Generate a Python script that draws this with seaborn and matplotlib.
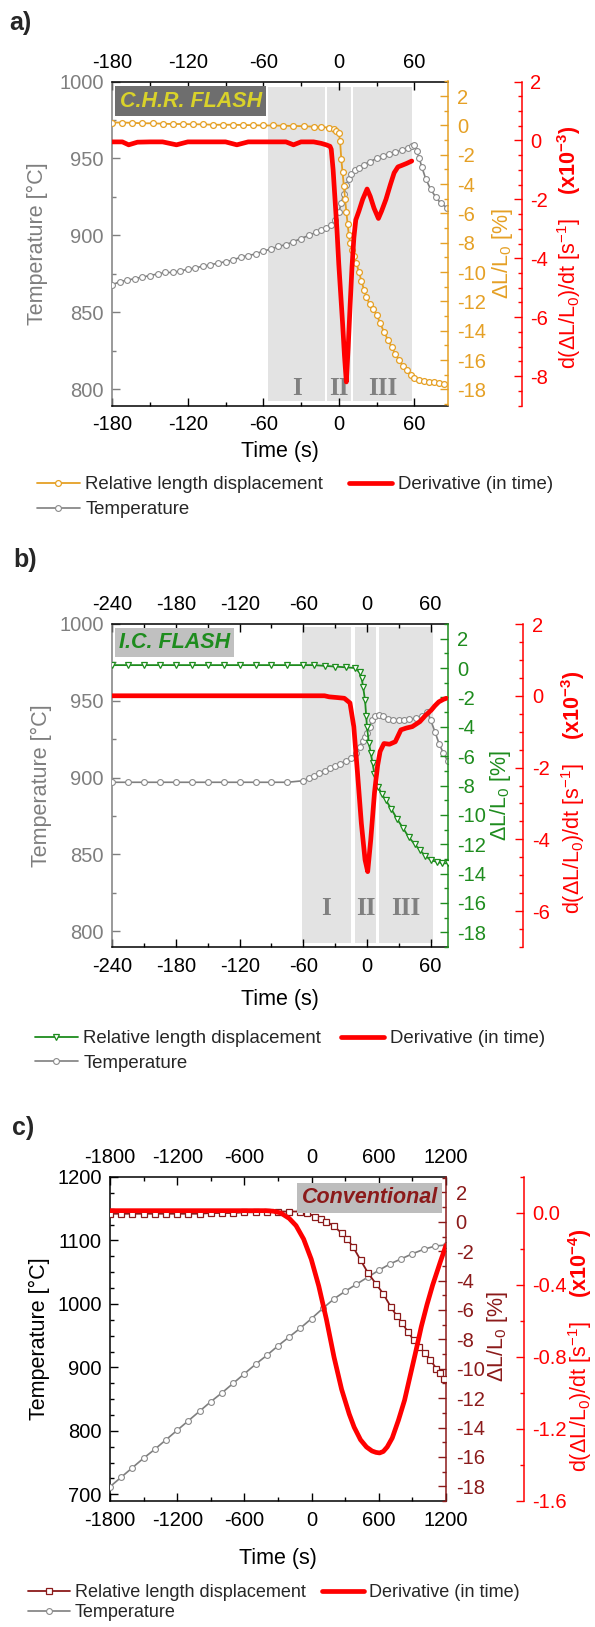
import matplotlib
matplotlib.use("Agg")
import matplotlib.pyplot as plt
import matplotlib.transforms as mtransforms
from matplotlib.ticker import MultipleLocator
import seaborn as sns

sns.set_style("ticks")
plt.rcParams['font.family'] = ['Liberation Sans', 'DejaVu Sans']
plt.rcParams['mathtext.fontset'] = 'custom'
plt.rcParams['mathtext.rm'] = 'Liberation Sans'
plt.rcParams['mathtext.it'] = 'Liberation Sans:italic'
plt.rcParams['mathtext.bf'] = 'Liberation Sans:bold'
plt.rcParams['axes.unicode_minus'] = False

# ------------------------------------------------------------------ data
region_names = ['I', 'II', 'III']
legend_labels = ['Relative length displacement', 'Temperature', 'Derivative (in time)']

# ---- panel a : C.H.R. FLASH
a_time_T = [-180, -174, -168, -162, -156, -150, -144, -138, -132, -126, -120, -114, -108, -102,
            -96, -90, -84, -78, -72, -66, -60, -54, -48, -42, -36, -30, -24, -18,
            -14, -10, -6, -3, 0, 2, 4, 6, 8, 10, 13, 16, 20, 25, 30, 35, 40, 45, 50, 55, 58, 60,
            62, 64, 66, 69, 73, 77, 81, 86]
a_temp = [868, 870, 871, 872, 873, 874, 875, 876, 876, 877, 878, 879, 880, 881, 882, 883, 884,
          886, 887, 888, 890, 891, 893, 894, 896, 898, 900, 902,
          903.5, 905, 907, 910, 915, 921, 927, 933, 937, 940, 942.5, 944, 946, 948, 950, 951.5,
          953, 954, 955.5, 957, 958, 958.5, 955, 950, 944.5, 937, 930, 925, 921, 918]
a_time_dl = [-180, -172, -164, -156, -148, -140, -132, -124, -116, -108, -100, -92, -84, -76,
             -68, -60, -52, -44, -36, -28, -20,
             -14, -8, -4, -2, 0, 1, 2, 3, 4, 5, 6, 7, 8, 9, 10.5, 12, 14, 16, 18, 20, 22, 24.5,
             27, 30, 33, 36, 39, 42, 45, 48, 51, 54, 57, 60, 64, 68, 72, 76, 80, 84]
a_dl = [0.2, 0.2, 0.18, 0.15, 0.15, 0.12, 0.1, 0.1, 0.08, 0.08, 0.05, 0.05, 0.05, 0.03, 0.02,
        0.0, 0.0, -0.02, -0.03, -0.05, -0.08,
        -0.1, -0.15, -0.25, -0.35, -0.5, -1.05, -2.3, -3.2, -4.1, -5.0, -5.9, -6.7, -7.5, -8.0,
        -8.5, -8.9, -9.4, -10.0, -10.6, -11.2, -11.7, -12.2, -12.5, -12.9, -13.5, -14.1, -14.6,
        -15.1, -15.6, -16.0, -16.4, -16.7, -17.0, -17.2, -17.35, -17.45, -17.5, -17.5, -17.55, -17.6]
a_time_dv = [-180, -172, -167, -160, -150, -140, -129, -120, -110, -100,
             -90, -81, -72, -60, -50, -42, -36, -30, -20, -14,
             -10, -7, -6, -4.5, -3, -1.5, 0, 1.5, 3, 4.5,
             6, 7.5, 9, 10.5, 12, 13.5, 16, 19, 22.5, 25,
             28, 31.5, 34, 37.5, 41, 44, 47, 50, 54, 58]
a_dv = [-0.05, -0.05, -0.15, -0.06, -0.05, -0.05, -0.15, -0.05, -0.05, -0.05,
        -0.05, -0.15, -0.05, -0.05, -0.05, -0.05, -0.15, -0.05, -0.05, -0.1,
        -0.15, -0.2, -0.3, -1.0, -2.0, -3.0, -4.2, -5.2, -6.2, -7.3,
        -8.2, -7.0, -5.6, -4.3, -3.3, -2.7, -2.4, -2.0, -1.65, -1.9,
        -2.3, -2.65, -2.4, -2.0, -1.5, -1.1, -0.9, -0.85, -0.78, -0.7]
a_regions = [(-56.2, -10.6), (-9.1, 9.8), (11.3, 57.9)]

# ---- panel b : I.C. FLASH
b_time_T = [-240, -225, -210, -195, -180, -165, -150, -135, -120, -105, -90, -75, -60,
            -55, -50, -45, -40, -35, -30, -25, -20, -15, -10,
            -7, -4, -2, 0, 2.5, 5, 8, 11, 15, 20,
            25, 30, 35, 40, 46, 52, 57, 60, 64, 68, 72, 76]
b_temp = [897, 897, 897, 897, 897, 897, 897, 897, 897, 897, 897, 897, 898,
          899.5, 901, 903, 904.5, 906, 907.5, 909, 911, 913, 916,
          920, 924, 926.5, 929, 933, 937.5, 940, 941, 940, 938.5,
          937.5, 937.5, 937.5, 938, 938.7, 940, 943, 937.5, 930, 922, 916, 911]
b_time_dl = [-240, -225, -210, -195, -180, -165, -150, -135, -120, -105, -90, -75, -60,
             -50, -40, -30, -20, -11,
             -7, -5, -3.6, -1.8, -0.7, 0, 1.8, 3.6, 5.3, 7,
             10.7, 14, 17.8, 23, 28.5, 34, 39.2, 45, 49.9, 55,
             60.6, 66, 71, 76]
b_dl = [0.2, 0.2, 0.2, 0.2, 0.2, 0.2, 0.2, 0.2, 0.2, 0.2, 0.2, 0.2, 0.2,
        0.2, 0.15, 0.1, 0.05, 0.0,
        -0.3, -0.7, -1.3, -2.2, -3.3, -4.0, -5.1, -5.8, -6.5, -7.2,
        -8.1, -8.6, -9.0, -9.6, -10.3, -10.9, -11.5, -12.0, -12.4, -12.8,
        -13.1, -13.2, -13.3, -13.3]
b_time_dv = [-240, -200, -160, -120, -80, -40,
             -35.6, -28, -21.3, -16, -12.4, -8.9, -5.3, -1.8, 0.7, 3.6,
             7.1, 10, 12.4, 16, 21.3, 26.7, 32, 37, 42.7, 49.9,
             55, 60.6, 64, 67.7, 72, 74.8]
b_dv = [0, 0, 0, 0, 0, 0,
        -0.03, -0.05, -0.07, -0.2, -0.86, -2.16, -3.55, -4.57, -4.9, -4.0,
        -2.7, -1.95, -1.55, -1.33, -1.35, -1.28, -0.95, -0.9, -0.86, -0.72,
        -0.55, -0.4, -0.28, -0.17, -0.1, -0.07]
b_regions = [(-61.6, -14.9), (-11.4, 8.9), (11.4, 62.3)]

# ---- panel c : Conventional
c_time_T = [-1800, -1700, -1600, -1500, -1400, -1300, -1200, -1100, -1000, -900, -800, -700,
            -600, -500, -400, -300, -200, -100, 0, 100, 200, 300, 400, 500, 600, 700, 800,
            900, 1000, 1100, 1200]
c_temp = [712, 727, 742, 757, 771, 786, 801, 816, 831, 846, 860, 875, 890, 905, 919, 934, 948,
          962, 977, 993, 1008, 1020, 1031, 1042, 1053, 1063, 1071, 1079, 1086, 1091, 1093]
c_time_dl = [-1800, -1700, -1600, -1500, -1400, -1300, -1200, -1100, -1000, -900, -800, -700,
             -600, -500, -400, -300, -200,
             -105, -40, 30, 80, 132, 200, 268, 320, 370, 437,
             505, 573, 640, 708, 760, 810, 860, 912, 960, 1014,
             1060, 1115, 1150, 1183]
c_dl = [0.55, 0.55, 0.55, 0.55, 0.55, 0.55, 0.55, 0.55, 0.55, 0.6, 0.6, 0.6, 0.65, 0.65, 0.7,
        0.7, 0.7,
        0.7, 0.6, 0.36, 0.2, 0.02, -0.3, -0.77, -1.2, -1.7, -2.6,
        -3.5, -4.2, -4.9, -5.8, -6.4, -6.9, -7.5, -8.05, -8.5, -8.95,
        -9.4, -10.0, -10.3, -10.7]
c_time_dv = [-1800, -1500, -1200, -900, -600, -410, -340, -275, -200, -139,
             -71, -3, 64, 132, 200, 268, 336, 380, 437, 490,
             539, 575, 607, 640, 675, 720, 776, 830, 878, 930,
             980, 1030, 1081, 1150, 1200]
c_dv = [0.013, 0.013, 0.013, 0.013, 0.013, 0.013, 0.01, 0.0, -0.03, -0.07,
        -0.145, -0.257, -0.406, -0.59, -0.8, -0.98, -1.117, -1.19, -1.26, -1.30,
        -1.322, -1.33, -1.333, -1.325, -1.30, -1.25, -1.15, -1.04, -0.91, -0.77,
        -0.63, -0.51, -0.4, -0.27, -0.18]

# ------------------------------------------------------------------ style
W, H = 595, 1627
GRAY = '#7f7f7f'
TGRAY = '#8a8a8a'
RED = '#ff0000'
ORANGE = '#e5a025'
GREEN = '#1e8c1e'
DRED = '#8b1a1a'
TICK_FS = 14.5
LAB_FS = 15.5

fig = plt.figure(figsize=(W / 100, H / 100), dpi=100)
fig.patch.set_facecolor('white')


def rect(l, r, t, b):
    return [l / W, 1 - b / H, (r - l) / W, (b - t) / H]


def panel(box, letter, letter_xy, xlim, xmaj, xmin_, tlim, tmaj, tmin, left_col,
          tT, T, tdl, dl, dl_col, dl_marker, dl_ms, dl_lim,
          tdv, dv, dv_lim, dv_maj, dv_min, dv_fmt, exp_txt, red_out,
          regions, reg_y, reg_span, title, title_fc, title_col, title_xy,
          lab_pos, leg):
    ax = fig.add_axes(rect(*box))
    ax.set_facecolor('none')
    # shaded stages
    if regions:
        trans = mtransforms.blended_transform_factory(ax.transData, ax.transAxes)
        for (x0, x1), nm in zip(regions, region_names):
            ax.axvspan(x0, x1, ymin=reg_span[0], ymax=reg_span[1], color='#e3e3e3', lw=0, zorder=0)
            ax.text((x0 + x1) / 2, reg_y, nm, transform=trans, ha='center', va='center',
                    family='Liberation Serif', fontweight='bold', fontsize=18, color='#808080',
                    zorder=1)
    # temperature
    sns.lineplot(x=tT, y=T, ax=ax, sort=False, estimator=None, color=GRAY, lw=1.2,
                 marker='o', markersize=4.2, markerfacecolor='white', markeredgecolor=TGRAY,
                 markeredgewidth=0.8, zorder=3)
    l_T = ax.get_lines()[-1]
    ax.set_xlim(*xlim)
    ax.set_ylim(*tlim)
    ax.xaxis.set_major_locator(MultipleLocator(xmaj))
    ax.xaxis.set_minor_locator(MultipleLocator(xmin_))
    ax.yaxis.set_major_locator(MultipleLocator(tmaj))
    ax.yaxis.set_minor_locator(MultipleLocator(tmin))
    ax.set_xlabel('')
    ax.set_ylabel('')
    ax.tick_params(axis='x', which='both', direction='in', top=True, bottom=True,
                   labeltop=True, labelbottom=True, labelsize=TICK_FS, pad=7, colors='black')
    ax.tick_params(axis='y', which='both', direction='in', left=True, right=False,
                   labelsize=TICK_FS, pad=6, color=left_col, labelcolor=left_col)
    ax.tick_params(which='major', length=6, width=1)
    ax.tick_params(which='minor', length=3, width=1)
    for s in ['top', 'bottom']:
        ax.spines[s].set_color('black')
        ax.spines[s].set_linewidth(1.1)
    ax.spines['left'].set_color(left_col)
    ax.spines['left'].set_linewidth(1.1)
    ax.spines['right'].set_visible(False)

    # relative length displacement
    ax2 = ax.twinx()
    sns.lineplot(x=tdl, y=dl, ax=ax2, sort=False, estimator=None, color=dl_col, lw=1.3,
                 marker=dl_marker, markersize=dl_ms, markerfacecolor='white',
                 markeredgecolor=dl_col, markeredgewidth=0.9, zorder=3)
    l_dl = ax2.get_lines()[-1]
    ax2.set_ylim(*dl_lim)
    ax2.yaxis.set_major_locator(MultipleLocator(2))
    ax2.yaxis.set_minor_locator(MultipleLocator(1))
    ax2.set_ylabel('')
    ax2.set_xlabel('')
    ax2.tick_params(axis='y', which='both', direction='in', labelsize=TICK_FS, pad=7,
                    colors=dl_col)
    ax2.tick_params(which='major', length=6, width=1)
    ax2.tick_params(which='minor', length=3, width=1)
    for s in ['top', 'bottom', 'left']:
        ax2.spines[s].set_visible(False)
    ax2.spines['right'].set_color(dl_col)
    ax2.spines['right'].set_linewidth(1.1)

    # derivative
    ax3 = ax.twinx()
    sns.lineplot(x=tdv, y=dv, ax=ax3, sort=False, estimator=None, color=RED, lw=3.4, zorder=4)
    l_dv = ax3.get_lines()[-1]
    ax3.set_ylim(*dv_lim)
    ax3.yaxis.set_major_locator(MultipleLocator(dv_maj))
    ax3.yaxis.set_minor_locator(MultipleLocator(dv_min))
    ax3.yaxis.set_major_formatter(dv_fmt)
    ax3.set_ylabel('')
    ax3.set_xlabel('')
    ax3.spines['right'].set_position(('outward', red_out))
    for s in ['top', 'bottom', 'left']:
        ax3.spines[s].set_visible(False)
    ax3.spines['right'].set_color(RED)
    ax3.spines['right'].set_linewidth(1.1)
    ax3.tick_params(axis='y', which='both', direction='in', labelsize=TICK_FS, pad=6,
                    colors=RED)
    ax3.tick_params(which='major', length=6, width=1)
    ax3.tick_params(which='minor', length=3, width=1)

    # title box
    ax3.text(title_xy[0], title_xy[1], title, transform=ax.transAxes, ha='left', va='top',
             fontsize=15.5, fontweight='bold', fontstyle='italic', color=title_col, zorder=10,
             bbox=dict(boxstyle='square,pad=0.2', fc=title_fc, ec='none'))

    # axis labels
    (tx, ty), (dx, dy), (rx, ry), xly = lab_pos
    ax.text(tx, ty, 'Temperature [°C]', transform=ax.transAxes, rotation=90, ha='center',
            va='center', fontsize=LAB_FS, color=left_col)
    ax.text(dx, dy, 'ΔL/L$_0$ [%]', transform=ax.transAxes, rotation=90, ha='center',
            va='center', fontsize=LAB_FS, color=dl_col)
    ax.text(rx, ry, 'd(ΔL/L$_0$)/dt [s$^{-1}$]    ' + exp_txt, transform=ax.transAxes,
            rotation=90, ha='center', va='center', fontsize=LAB_FS, color=RED)
    ax.text(0.5, xly, 'Time (s)', transform=ax.transAxes, ha='center', va='center',
            fontsize=LAB_FS, color='black')

    fig.text(letter_xy[0] / W, 1 - letter_xy[1] / H, letter, fontsize=18, fontweight='bold',
             ha='left', va='center')

    lx, ly, lfs, lsp, csp = leg
    fig.legend(handles=[l_dl, l_T, l_dv], labels=legend_labels, ncol=2, loc='upper left',
               bbox_to_anchor=(lx / W, 1 - ly / H), frameon=False, fontsize=lfs,
               handlelength=2.3, handletextpad=0.3, columnspacing=csp, labelspacing=lsp,
               borderpad=0, borderaxespad=0, numpoints=1)
    return ax


fmt_int = matplotlib.ticker.FormatStrFormatter('%d')
fmt_1 = matplotlib.ticker.FormatStrFormatter('%.1f')

panel((112.3, 447.5, 81.5, 405.5), 'a)', (9, 23), (-180, 86.4), 60, 30, (789.6, 1000), 50, 25,
      GRAY,
      a_time_T, a_temp, a_time_dl, a_dl, ORANGE, 'o', 4.2, (-19.1, 3.0),
      a_time_dv, a_dv, (-9, 2), 2, 0.5, fmt_int, r'$\mathbf{(x10^{-3})}$', 53.6,
      a_regions, 0.054, (0.015, 0.983),
      'C.H.R. FLASH', '#6e6e6e', '#d9d22a', (0.022, 0.972),
      ((-0.222, 0.5), (1.165, 0.47), (1.362, 0.489), -0.1435),
      (37, 476, 13.4, 0.45, 1.4))

panel((112.3, 447.5, 624, 947), 'b)', (13, 560), (-240, 75.9), 60, 30, (789.8, 1000), 50, 25,
      GRAY,
      b_time_T, b_temp, b_time_dl, b_dl, GREEN, 'v', 5.0, (-19.0, 3.0),
      b_time_dv, b_dv, (-7, 2), 2, 0.5, fmt_int, r'$\mathbf{(x10^{-3})}$', 54.7,
      b_regions, 0.12, (0.013, 0.99),
      'I.C. FLASH', '#c0c0c0', GREEN, (0.02, 0.975),
      ((-0.211, 0.5), (1.157, 0.47), (1.375, 0.48), -0.164),
      (35, 1030, 13.4, 0.40, 1.07))

panel((110, 446, 1177, 1501), 'c)', (12, 1128), (-1800, 1200), 600, 300, (689.5, 1200), 100, 25,
      'black',
      c_time_T, c_temp, c_time_dl, c_dl, DRED, 's', 5.0, (-19.0, 3.05),
      c_time_dv, c_dv, (-1.6, 0.2), 0.4, 0.2, fmt_1, r'$\mathbf{(x10^{-4})}$', 56,
      None, 0, (0, 1),
      'Conventional', '#bdbdbd', DRED, (0.57, 0.968),
      ((-0.209, 0.5), (1.152, 0.507), (1.40, 0.466), -0.176),
      (28, 1584, 13.0, 0.18, 0.9))

fig.savefig('out.png', dpi=100, facecolor='white')
